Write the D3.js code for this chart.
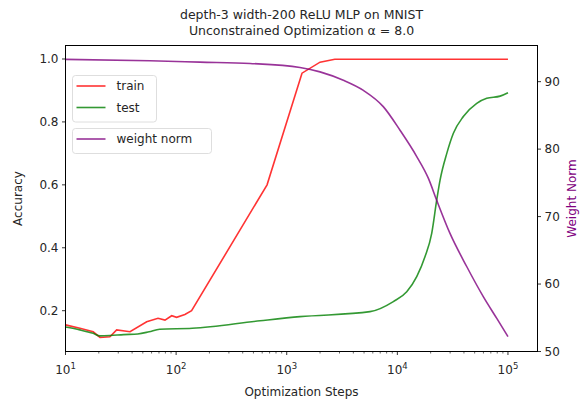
<!DOCTYPE html>
<html>
<head>
<meta charset="utf-8">
<script src="https://cdn.jsdelivr.net/npm/d3@7"></script>
<style>
  body { margin: 0; background: #fff; }
  text { font-family: "DejaVu Sans", sans-serif; fill: #262626; }
</style>
</head>
<body>
<div id="chart"></div>
<script>
// optimization steps / values
const trainSteps = [10, 13.5, 17.8, 20.5, 25.2, 29, 38.3, 54.2, 68.6, 79.3, 91.2, 101, 120, 138, 664, 1374, 2000, 2720, 10000, 100000];
const trainAcc   = [0.155, 0.144, 0.133, 0.115, 0.117, 0.139, 0.133, 0.165, 0.176, 0.170, 0.184, 0.179, 0.188, 0.200, 0.600, 0.955, 0.990, 0.999, 0.999, 0.999];

const testSteps = [10, 13.5, 17.8, 20.5, 25.2, 33.5, 45, 57, 71, 140, 574, 1318, 5660, 9200, 12160, 14970, 17800, 20450, 22700, 24330, 27990, 32100, 39500, 52200, 64300, 84900, 100000];
const testAcc   = [0.148, 0.139, 0.128, 0.120, 0.121, 0.124, 0.126, 0.133, 0.141, 0.144, 0.168, 0.181, 0.197, 0.229, 0.260, 0.308, 0.372, 0.446, 0.552, 0.615, 0.700, 0.764, 0.817, 0.859, 0.875, 0.882, 0.893];

const normSteps = [10, 58, 164, 466, 1318, 2000, 3250, 4930, 7460, 10570, 14970, 19050, 22700, 29920, 42360, 60000, 79250, 100000];
const normVals  = [93.3, 93.1, 92.9, 92.7, 92.1, 91.45, 90.2, 88.7, 86.3, 82.8, 78.9, 75.7, 72.4, 67.5, 62.6, 58.1, 54.9, 52.2];

const accTicks = [0.2, 0.4, 0.6, 0.8, 1.0];
const normTicks = [50, 60, 70, 80, 90];
const stepTicks = [1, 2, 3, 4, 5]; // exponents

const titleLines = ["depth-3 width-200 ReLU MLP on MNIST", "Unconstrained Optimization \u03b1 = 8.0"];

const W = 580, H = 400;
const margin = { top: 45.5, right: 42.5, bottom: 48.5, left: 65.5 };
const iw = W - margin.left - margin.right;
const ih = H - margin.top - margin.bottom;

const svg = d3.select("#chart").append("svg")
    .attr("width", W).attr("height", H);

const x = d3.scaleLog().domain([10, Math.pow(10, 5.267)]).range([0, iw]);
const yAcc = d3.scaleLinear().domain([0.0703, 1.0429]).range([ih, 0]);
const yNorm = d3.scaleLinear().domain([50, 95.36]).range([ih, 0]);

const g = svg.append("g")
    .attr("transform", "translate(" + margin.left + "," + margin.top + ")");

// lines
const trainLine = d3.line().x((d, i) => x(trainSteps[i])).y(d => yAcc(d));
const testLine = d3.line().x((d, i) => x(testSteps[i])).y(d => yAcc(d));
const normLine = d3.line().curve(d3.curveMonotoneX).x((d, i) => x(normSteps[i])).y(d => yNorm(d));

g.append("path").attr("d", trainLine(trainAcc))
    .attr("fill", "none").attr("stroke", "red").attr("stroke-opacity", 0.8).attr("stroke-width", 1.6);
g.append("path").attr("d", testLine.curve(d3.curveMonotoneX)(testAcc))
    .attr("fill", "none").attr("stroke", "green").attr("stroke-opacity", 0.8).attr("stroke-width", 1.6);
g.append("path").attr("d", normLine(normVals))
    .attr("fill", "none").attr("stroke", "purple").attr("stroke-opacity", 0.8).attr("stroke-width", 1.6);

// frame
g.append("rect").attr("width", iw).attr("height", ih)
    .attr("fill", "none").attr("stroke", "#000").attr("stroke-width", 1);

// x axis
const xAxis = g.append("g").attr("transform", "translate(0," + ih + ")");
let minors = [];
for (let e = 1; e <= 5; e++) {
    for (let m = 2; m <= 9; m++) {
        let v = m * Math.pow(10, e);
        if (v <= x.domain()[1]) minors.push(v);
    }
}
xAxis.selectAll(".minor").data(minors).join("line")
    .attr("x1", d => x(d)).attr("x2", d => x(d))
    .attr("y1", 0).attr("y2", 2).attr("stroke", "#000").attr("stroke-width", 0.6);
let major = xAxis.selectAll(".major").data(stepTicks).join("g")
    .attr("transform", d => "translate(" + x(Math.pow(10, d)) + ",0)");
major.append("line").attr("y2", 3.5).attr("stroke", "#000").attr("stroke-width", 0.8);
let lab = major.append("text").attr("y", 22).attr("text-anchor", "middle").style("font-size", "12px");
lab.append("tspan").text("10");
lab.append("tspan").attr("dy", -5).style("font-size", "8.5px").text(d => d);

svg.append("text").attr("x", margin.left + iw / 2).attr("y", 396)
    .attr("text-anchor", "middle").style("font-size", "12px").text("Optimization Steps");

// left axis
const yl = g.append("g");
yl.selectAll("g").data(accTicks).join("g")
    .attr("transform", d => "translate(0," + yAcc(d) + ")")
    .call(s => {
        s.append("line").attr("x2", -3.5).attr("stroke", "#000").attr("stroke-width", 0.8);
        s.append("text").attr("x", -7).attr("dy", "0.35em").attr("text-anchor", "end")
            .style("font-size", "12px").text(d => d.toFixed(1));
    });
svg.append("text")
    .attr("transform", "translate(22," + (margin.top + ih / 2) + ") rotate(-90)")
    .attr("text-anchor", "middle").style("font-size", "12px").text("Accuracy");

// right axis
const yr = g.append("g").attr("transform", "translate(" + iw + ",0)");
yr.selectAll("g").data(normTicks).join("g")
    .attr("transform", d => "translate(0," + yNorm(d) + ")")
    .call(s => {
        s.append("line").attr("x2", 3.5).attr("stroke", "#000").attr("stroke-width", 0.8);
        s.append("text").attr("x", 7).attr("dy", "0.35em").attr("text-anchor", "start")
            .style("font-size", "12px").text(d => d);
    });
svg.append("text")
    .attr("transform", "translate(576," + (margin.top + ih / 2) + ") rotate(-90)")
    .attr("text-anchor", "middle").style("font-size", "12px").style("fill", "purple").text("Weight Norm");

// title
svg.selectAll(".title").data(titleLines).join("text")
    .attr("x", margin.left + iw / 2).attr("y", (d, i) => 19 + i * 16)
    .attr("text-anchor", "middle").style("font-size", "12.5px").text(d => d);

// legends
function legend(px, py, w, items) {
    let lg = svg.append("g").attr("transform", "translate(" + px + "," + py + ")");
    lg.append("rect").attr("width", w).attr("height", items.length * 21.5 + 3.5)
        .attr("rx", 3).attr("fill", "#fff").attr("fill-opacity", 0.8)
        .attr("stroke", "#d6d6d6").attr("stroke-width", 0.8);
    items.forEach((it, i) => {
        let cy = 10.5 + i * 21.5;
        lg.append("line").attr("x1", 4).attr("x2", 33).attr("y1", cy).attr("y2", cy)
            .attr("stroke", it.color).attr("stroke-opacity", 0.8).attr("stroke-width", 1.6);
        lg.append("text").attr("x", 44).attr("y", cy).attr("dy", "0.35em")
            .style("font-size", "12px").text(it.name);
    });
}
legend(72.5, 75.5, 84, [{ name: "train", color: "red" }, { name: "test", color: "green" }]);
legend(72.5, 128.5, 139, [{ name: "weight norm", color: "purple" }]);
</script>
</body>
</html>
